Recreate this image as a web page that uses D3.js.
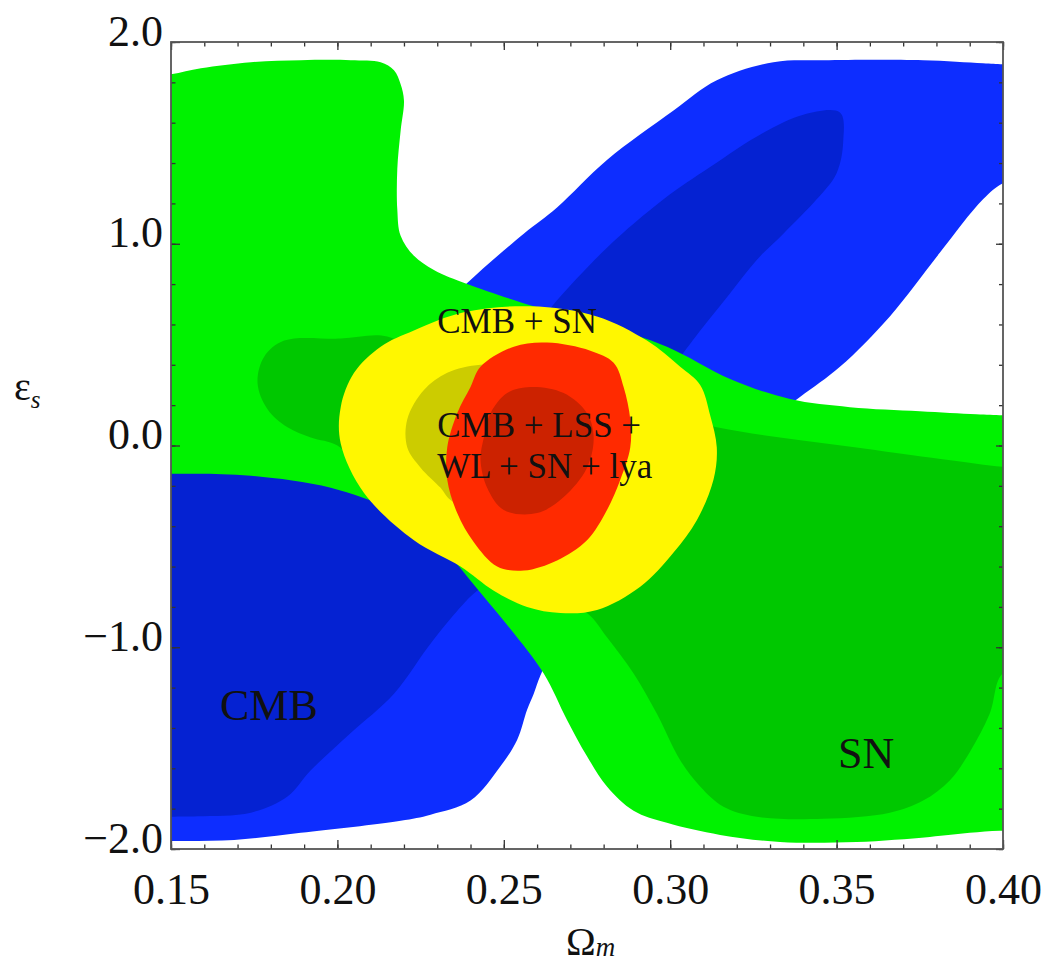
<!DOCTYPE html>
<html>
<head>
<meta charset="utf-8">
<script src="https://cdn.jsdelivr.net/npm/d3@7"></script>
<style>
  body { margin: 0; background: #fff; }
  svg text { font-family: "Liberation Serif", "Times New Roman", serif; fill: #111; }
</style>
</head>
<body>
<div id="chart"></div>
<script>
// Contour outlines, points are [Omega_m, eps_s]
// CMB alone (2 sigma / 1 sigma)
const cmbOuter = [
  [0.140, -0.05], [0.174, -0.05], [0.204, 0.13], [0.225, 0.57], [0.239, 0.805],
  [0.256, 1.05], [0.266, 1.18], [0.281, 1.415], [0.301, 1.66], [0.314, 1.81],
  [0.331, 1.90], [0.346, 1.91], [0.376, 1.91], [0.394, 1.895], [0.400, 1.89],
  [0.410, 1.89], [0.410, 1.34], [0.400, 1.30], [0.394, 1.22], [0.381, 0.955],
  [0.366, 0.64], [0.351, 0.39],
  [0.339, 0.24], [0.327, 0.09], [0.309, -0.17], [0.291, -0.47], [0.273, -0.865],
  [0.265, -1.01], [0.261, -1.14], [0.259, -1.23], [0.257, -1.31], [0.254, -1.46],
  [0.249, -1.59], [0.240, -1.76], [0.228, -1.83], [0.219, -1.86], [0.189, -1.92],
  [0.169, -1.955], [0.150, -1.96], [0.140, -1.96]
];
const cmbInner = [
  [0.140, -0.07], [0.189, -0.05], [0.219, 0.13], [0.243, 0.37], [0.261, 0.62],
  [0.266, 0.72], [0.281, 0.98], [0.298, 1.22], [0.312, 1.38], [0.328, 1.55],
  [0.340, 1.64], [0.351, 1.65], [0.352, 1.51], [0.350, 1.35], [0.344, 1.22],
  [0.334, 1.05], [0.326, 0.92], [0.318, 0.755], [0.310, 0.59], [0.304, 0.46],
  [0.294, 0.23], [0.279, -0.17], [0.258, -0.57], [0.246, -0.69], [0.242, -0.72],
  [0.229, -0.96], [0.217, -1.23], [0.204, -1.425], [0.192, -1.61], [0.185, -1.74],
  [0.174, -1.82], [0.158, -1.838], [0.150, -1.84], [0.140, -1.84]
];
// SN alone
const snOuter = [
  [0.140, 1.82], [0.150, 1.84], [0.159, 1.87], [0.174, 1.90], [0.189, 1.91],
  [0.204, 1.91], [0.213, 1.90], [0.217, 1.86], [0.219, 1.79], [0.220, 1.71],
  [0.219, 1.56], [0.218, 1.37], [0.218, 1.17], [0.219, 1.04], [0.223, 0.94],
  [0.229, 0.87], [0.239, 0.80], [0.259, 0.69], [0.279, 0.60], [0.299, 0.49],
  [0.318, 0.33], [0.336, 0.23], [0.354, 0.19], [0.375, 0.17], [0.392, 0.155],
  [0.400, 0.15], [0.410, 0.15], [0.410, -1.93], [0.400, -1.91], [0.390, -1.92],
  [0.378, -1.94], [0.356, -1.965], [0.333, -1.965],
  [0.315, -1.93], [0.299, -1.87], [0.289, -1.81], [0.281, -1.69], [0.275, -1.54],
  [0.269, -1.36], [0.262, -1.13], [0.252, -0.91], [0.243, -0.73], [0.235, -0.57],
  [0.231, -0.50], [0.218, -0.335], [0.198, -0.21], [0.174, -0.15], [0.158, -0.14],
  [0.150, -0.14], [0.140, -0.14]
];
const snInner = [
  [0.184, 0.52], [0.201, 0.53], [0.215, 0.54], [0.228, 0.42], [0.264, 0.275],
  [0.294, 0.18], [0.314, 0.09], [0.333, 0.04], [0.356, -0.01], [0.378, -0.06],
  [0.392, -0.09], [0.400, -0.105], [0.410, -0.11], [0.410, -1.13], [0.400, -1.13],
  [0.396, -1.33], [0.390, -1.52],
  [0.384, -1.66], [0.376, -1.76], [0.366, -1.82], [0.346, -1.85], [0.326, -1.84],
  [0.316, -1.79], [0.309, -1.69], [0.303, -1.56], [0.296, -1.33], [0.289, -1.13],
  [0.281, -0.95], [0.275, -0.83], [0.261, -0.72], [0.243, -0.57], [0.219, -0.32],
  [0.207, -0.12], [0.200, 0.00], [0.192, 0.04], [0.185, 0.09], [0.179, 0.18],
  [0.176, 0.31], [0.178, 0.44]
];
// CMB + SN
const cmbSnOuter = [
  [0.223, 0.57], [0.238, 0.66], [0.258, 0.69], [0.278, 0.64], [0.293, 0.52],
  [0.303, 0.39], [0.309, 0.30], [0.312, 0.15], [0.314, -0.01], [0.313, -0.17],
  [0.308, -0.37], [0.301, -0.53], [0.291, -0.70], [0.278, -0.815], [0.267, -0.83],
  [0.257, -0.80], [0.247, -0.72], [0.237, -0.60], [0.223, -0.47], [0.208, -0.235],
  [0.201, 0.01], [0.201, 0.19], [0.205, 0.36], [0.213, 0.49]
];
const cmbSnInner = [
  [0.221, 0.13], [0.226, 0.275], [0.233, 0.36], [0.243, 0.40], [0.255, 0.385],
  [0.267, 0.23], [0.267, -0.12], [0.249, -0.37], [0.234, -0.27], [0.231, -0.21],
  [0.225, -0.11], [0.221, -0.01]
];
// CMB + LSS + WL + SN + lya
const allOuter = [
  [0.240, 0.29], [0.243, 0.39], [0.253, 0.49], [0.263, 0.51], [0.276, 0.47],
  [0.283, 0.41], [0.286, 0.29], [0.288, 0.13], [0.288, -0.01], [0.285, -0.17],
  [0.281, -0.32], [0.275, -0.47], [0.266, -0.57], [0.256, -0.62], [0.248, -0.60],
  [0.241, -0.48], [0.236, -0.335], [0.233, -0.17], [0.233, -0.01], [0.236, 0.16]
];
const allInner = [
  [0.244, 0.04], [0.246, 0.16], [0.251, 0.26], [0.258, 0.29], [0.268, 0.26],
  [0.275, 0.16], [0.277, 0.04], [0.275, -0.11], [0.268, -0.255], [0.260, -0.335],
  [0.250, -0.32], [0.245, -0.21], [0.243, -0.07]
];

// ticks
const xMajor = [0.15, 0.20, 0.25, 0.30, 0.35, 0.40];
const xLabels = ["0.15", "0.20", "0.25", "0.30", "0.35", "0.40"];
const yMajor = [2, 1, 0, -1, -2];
const yLabels = ["2.0", "1.0", "0.0", "\u22121.0", "\u22122.0"];

// text annotations placed in data coordinates
const notes = [
  { text: "CMB + SN", at: [0.230, 0.558], size: 35 },
  { text: "CMB + LSS +", at: [0.230, 0.042], size: 35 },
  { text: "WL + SN + lya", at: [0.230, -0.161], size: 35 },
  { text: "CMB", at: [0.1647, -1.361], size: 44 },
  { text: "SN", at: [0.3504, -1.598], size: 44 }
];

const margin = { top: 42, left: 171 },
      width = 832,
      height = 807;

const svg = d3.select("#chart")
    .append("svg")
    .attr("width", 1046)
    .attr("height", 965);

const x = d3.scaleLinear().domain([0.15, 0.40]).range([0, width]);
const y = d3.scaleLinear().domain([-2, 2]).range([height, 0]);

const g = svg.append("g")
    .attr("transform", `translate(${margin.left},${margin.top})`);

g.append("clipPath").attr("id", "plot")
  .append("rect").attr("width", width).attr("height", height);

const outline = d3.line()
    .x(d => x(d[0]))
    .y(d => y(d[1]))
    .curve(d3.curveCatmullRomClosed.alpha(0.5));

// drawing order matters: SN sits over CMB, combined fits on top
const layers = [
  { pts: cmbOuter, fill: "#0d2dff" },
  { pts: cmbInner, fill: "#0522d2" },
  { pts: snOuter, fill: "#00f200" },
  { pts: snInner, fill: "#00c800" },
  { pts: cmbSnOuter, fill: "#fff700" },
  { pts: cmbSnInner, fill: "#cccc00" },
  { pts: allOuter, fill: "#ff2a00" },
  { pts: allInner, fill: "#cc2200" }
];

g.append("g").attr("clip-path", "url(#plot)")
  .selectAll("path")
  .data(layers)
  .enter()
  .append("path")
  .attr("d", d => outline(d.pts))
  .attr("fill", d => d.fill);

// labels on the contours
g.selectAll(".note")
  .data(notes)
  .enter()
  .append("text")
  .attr("class", "note")
  .attr("x", d => x(d.at[0]))
  .attr("y", d => y(d.at[1]))
  .style("font-size", d => d.size + "px")
  .text(d => d.text);

// axes: ticks point inward on all four sides
const minorX = d3.range(0.15, 0.4001, 0.01);
const minorY = d3.range(-2, 2.001, 0.2);

function styleAxis(sel) {
  sel.select(".domain").remove();
  sel.selectAll("line").attr("stroke", "#333").attr("stroke-width", 1.3);
  sel.attr("font-family", null).attr("font-size", null);
}

g.append("g").attr("transform", `translate(0,${height})`)
  .call(d3.axisBottom(x).tickValues(minorX).tickFormat("").tickSize(-4.5))
  .call(styleAxis);
g.append("g").attr("transform", `translate(0,${height})`)
  .call(d3.axisBottom(x).tickValues(xMajor).tickFormat((d, i) => xLabels[i]).tickSize(-9).tickPadding(24))
  .call(styleAxis)
  .selectAll("text").style("font-size", "44px");

g.append("g")
  .call(d3.axisTop(x).tickValues(minorX).tickFormat("").tickSize(-4.5))
  .call(styleAxis);
g.append("g")
  .call(d3.axisTop(x).tickValues(xMajor).tickFormat("").tickSize(-8))
  .call(styleAxis);

g.append("g")
  .call(d3.axisLeft(y).tickValues(minorY).tickFormat("").tickSize(-4.5))
  .call(styleAxis);
g.append("g")
  .call(d3.axisLeft(y).tickValues(yMajor).tickFormat((d, i) => yLabels[i]).tickSize(-9).tickPadding(8))
  .call(styleAxis)
  .selectAll("text").style("font-size", "44px").attr("dy", "0.07em");

g.append("g").attr("transform", `translate(${width},0)`)
  .call(d3.axisRight(y).tickValues(minorY).tickFormat("").tickSize(-4))
  .call(styleAxis);
g.append("g").attr("transform", `translate(${width},0)`)
  .call(d3.axisRight(y).tickValues(yMajor).tickFormat("").tickSize(-7))
  .call(styleAxis);

// frame
g.append("rect")
  .attr("width", width)
  .attr("height", height)
  .attr("fill", "none")
  .attr("stroke", "#555")
  .attr("stroke-width", 1.8);

// axis titles
const xt = svg.append("text")
  .attr("x", 566).attr("y", 955)
  .style("font-size", "40px")
  .text("\u03a9");
xt.append("tspan")
  .attr("dy", 1)
  .style("font-size", "27px").style("font-style", "italic")
  .text("m");

const yt = svg.append("text")
  .attr("x", 14).attr("y", 400)
  .style("font-size", "40px")
  .text("\u03b5");
yt.append("tspan")
  .attr("dy", 8)
  .style("font-size", "25px").style("font-style", "italic")
  .text("s");
</script>
</body>
</html>
